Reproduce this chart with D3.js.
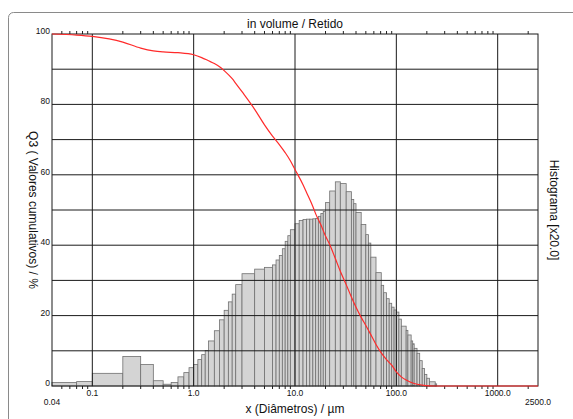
<!DOCTYPE html>
<html>
<head>
<meta charset="utf-8">
<script src="https://cdn.jsdelivr.net/npm/d3@7"></script>
<style>
  body { margin: 0; background: white; }
  text { font-family: "Liberation Sans", Arial, sans-serif; fill: #111; }
</style>
</head>
<body>
<div class="chart"></div>
<script>

// size classes (µm) - bin edges of the histogram
const sizeClasses = [0.04,0.07,0.1,0.2,0.3,0.4,0.5,0.6,0.7,0.8,0.9,1.0,1.1,1.2,1.3,1.4,1.6,1.8,2.0,2.2,2.4,2.6,3.0,4.0,5.0,6.0,6.5,7.0,7.5,8.0,8.5,9.0,
  10,11,12,13,14,15,16,17,18,19,20,22,25,28,32,36,38,40,45,50,53,56,63,71,75,80,85,90,95,100,106,112,125,130,140,145,150,160,170,180,190,200,212,242,250];

// histogram [x20.0], one value per class
const histogramX20 = [1.0,1.25,3.6,8.4,6.1,1.5,0.5,1.0,2.6,3.8,5.2,6.1,7.5,8.9,10.1,12.8,15.7,18.8,21.5,23.9,26.1,28.8,31.9,33.2,33.7,34.4,35.8,37.1,39.0,41.1,42.7,44.4,
  46.1,47.0,47.3,47.4,47.4,47.5,47.6,48.2,49.0,49.6,52.1,55.4,58.0,57.5,55.2,53.0,51.8,49.3,45.9,43.0,40.6,36.6,32.2,28.6,26.5,24.8,23.5,22.4,21.6,
  21.0,19.0,17.0,15.8,14.5,12.8,12.0,10.7,9.3,7.2,5.0,3.3,2.2,1.2,0.6];

// Q3 cumulative retained (%)
const cumSizes = [0.04,0.07,0.1,0.2,0.3,0.4,0.5,0.7,1.0,1.2,1.4,1.6,1.8,2.0,2.4,2.6,3.0,4.0,5.0,6.0,7.0,8.0,9.0,10,12,13,15,16,18,20,22,25,28,32,36,40,45,50,56,63,71,80,90,100,112,125,150,180,212,250,2500];
const cumValues = [100,99.7,99.3,97.7,96.0,95.2,94.9,94.7,94.1,93.3,92.4,91.6,90.7,89.6,87.3,86.0,83.6,78.6,74.2,71.0,68.6,66.3,64.0,61.5,57.2,55.0,51.0,48.9,45.8,42.6,40.2,36.2,32.6,28.8,25.3,22.4,19.5,17.2,14.6,11.8,9.4,7.5,5.9,4.0,2.6,1.7,0.7,0.25,0.05,0,0];

const xMajor = [0.1, 1, 10, 100, 1000];
const xMajorLabels = ["0.1", "1.0", "10.0", "100.0", "1000.0"];
const xEnds = [0.04, 2500];
const xEndLabels = ["0.04", "2500.0"];
const yGrid = [10,20,30,40,50,60,70,80,90];
const yLabels = [0,20,40,60,80,100];

const w = 573;
const h = 419;
const pLeft = 52, pRight = 538, pTop = 34, pBottom = 386;

const svg = d3.select(".chart")
              .append("svg")
              .attr("width", w)
              .attr("height", h)
              .style("background-color", "white");

const x = d3.scaleLog().domain([0.04, 2500]).range([pLeft, pRight]);
const y = d3.scaleLinear().domain([0, 100]).range([pBottom, pTop]);

// outer frame with round corner
svg.append("rect")
   .attr("x", 8.5).attr("y", 12.5)
   .attr("width", 700).attr("height", 500)
   .attr("rx", 5)
   .attr("fill", "none")
   .attr("stroke", "#8a8a8a");

// histogram bars
const bins = d3.pairs(sizeClasses).map(function(p, i){
  return {x0: p[0], x1: p[1], v: histogramX20[i]};
});

svg.selectAll("rect.bar")
   .data(bins)
   .enter()
   .append("rect")
   .attr("class", "bar")
   .attr("x", d => x(d.x0))
   .attr("y", d => y(d.v))
   .attr("width", d => x(d.x1) - x(d.x0))
   .attr("height", d => y(0) - y(d.v))
   .attr("fill", "#d4d4d4")
   .attr("stroke", "#707070")
   .attr("stroke-width", 0.8);

// grid lines
svg.selectAll("line.hgrid")
   .data(yGrid)
   .enter()
   .append("line")
   .attr("x1", pLeft).attr("x2", pRight)
   .attr("y1", d => y(d)).attr("y2", d => y(d))
   .attr("stroke", "#1a1a1a")
   .attr("stroke-width", 1);

svg.selectAll("line.vgrid")
   .data(xMajor)
   .enter()
   .append("line")
   .attr("x1", d => x(d)).attr("x2", d => x(d))
   .attr("y1", pTop).attr("y2", pBottom)
   .attr("stroke", "#1a1a1a")
   .attr("stroke-width", 1);

// minor ticks top and bottom
const minor = [];
[0.01, 0.1, 1, 10, 100, 1000].forEach(function(dec){
  for (let k = 2; k <= 9; k++) {
    const v = dec * k;
    if (v > 0.04 && v < 2500) minor.push(v);
  }
});

svg.selectAll("line.ttick")
   .data(minor)
   .enter()
   .append("line")
   .attr("x1", d => x(d)).attr("x2", d => x(d))
   .attr("y1", pTop - 3).attr("y2", pTop)
   .attr("stroke", "#222");

svg.selectAll("line.btick")
   .data(minor)
   .enter()
   .append("line")
   .attr("x1", d => x(d)).attr("x2", d => x(d))
   .attr("y1", pBottom).attr("y2", pBottom + 3)
   .attr("stroke", "#222");

// plot border
svg.append("rect")
   .attr("x", pLeft).attr("y", pTop)
   .attr("width", pRight - pLeft).attr("height", pBottom - pTop)
   .attr("fill", "none")
   .attr("stroke", "#1a1a1a");

// cumulative curve
const cumLine = d3.line()
  .x(d => x(d[0]))
  .y(d => y(d[1]))
  .curve(d3.curveMonotoneX);

svg.append("path")
   .datum(cumSizes.map((s, i) => [s, cumValues[i]]))
   .attr("d", cumLine)
   .attr("fill", "none")
   .attr("stroke", "#ff2a2a")
   .attr("stroke-width", 1.2);

// tick labels
svg.selectAll("text.ylab")
   .data(yLabels)
   .enter()
   .append("text")
   .attr("x", 50)
   .attr("y", d => y(d))
   .attr("text-anchor", "end")
   .attr("font-size", "8.5px")
   .text(d => d);

svg.selectAll("text.xlab")
   .data(xMajor)
   .enter()
   .append("text")
   .attr("x", d => x(d))
   .attr("y", 395.5)
   .attr("text-anchor", "middle")
   .attr("font-size", "8.5px")
   .text((d, i) => xMajorLabels[i]);

svg.selectAll("text.xend")
   .data(xEnds)
   .enter()
   .append("text")
   .attr("x", d => x(d))
   .attr("y", 404.5)
   .attr("text-anchor", "middle")
   .attr("font-size", "8.5px")
   .text((d, i) => xEndLabels[i]);

// titles
svg.append("text")
   .attr("x", 295).attr("y", 27.5)
   .attr("text-anchor", "middle")
   .attr("font-size", "12px")
   .text("in volume / Retido");

svg.append("text")
   .attr("x", 295).attr("y", 413)
   .attr("text-anchor", "middle")
   .attr("font-size", "12px")
   .text("x (Diâmetros) / µm");

svg.append("text")
   .attr("transform", "translate(29,210) rotate(90)")
   .attr("text-anchor", "middle")
   .attr("font-size", "12px")
   .text("Q3 ( Valores cumulativos) / %");

svg.append("text")
   .attr("transform", "translate(550,210) rotate(90)")
   .attr("text-anchor", "middle")
   .attr("font-size", "12px")
   .text("Histograma [x20.0]");

</script>
</body>
</html>
